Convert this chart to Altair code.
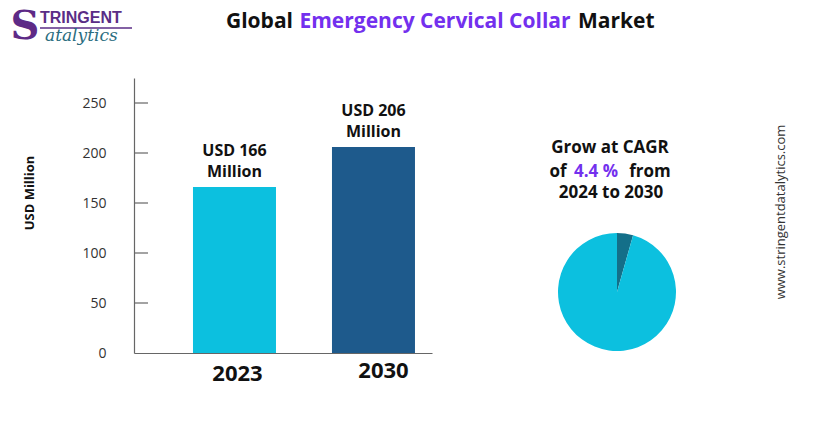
import altair as alt
import pandas as pd

# ---------------- data ----------------
years = ["2023", "2030"]
market_values = [166, 206]
value_labels = ["USD 166\nMillion", "USD 206\nMillion"]
y_ticks = [0, 50, 100, 150, 200, 250]
tick_marks = [50, 100, 150, 200, 250]
pie_parts = ["growth", "rest"]
pie_values = [4.4, 95.6]
title_parts = ["Global", "Emergency Cervical Collar", "Market"]
cagr_text = ["Grow at CAGR", "of", "4.4 %", "from", "2024 to 2030"]
y_title = "USD Million"
watermark = "www.stringentdatalytics.com"
logo_parts = ["S", "TRINGENT", "atalytics"]

# ---------------- layout ----------------
OX, OY = 134, 78          # plot-area origin in page pixels
W, H = 298, 275           # plot-area size
FONT = "Open Sans"
CYAN = "#0cc0df"
NAVY = "#1e5a8c"
DARK = "#146f89"
PURPLE = "#7330ee"


def px(x):
    return x - OX


def py(y):
    return y - OY


def one(text):
    return pd.DataFrame({"t": [text]})


bars_df = pd.DataFrame({"year": years, "value": market_values, "label": value_labels})
ticks_df = pd.DataFrame({"value": tick_marks})
pie_df = pd.DataFrame({"part": pie_parts, "share": pie_values, "order": [0, 1]})

xscale = alt.Scale(domain=years, paddingInner=0.403, paddingOuter=0.2735, align=0.776)
yscale = alt.Scale(domain=[0, 275], nice=False)

xaxis = alt.Axis(
    title=None, ticks=False, domainColor="#666", domainWidth=1.2,
    labelFont=FONT, labelFontSize=22, labelFontWeight="bold", labelColor="#111",
    labelAngle=0,
    labelOffset={"condition": {"test": "datum.value == '2030'", "value": 10}, "value": 3},
    labelPadding={"condition": {"test": "datum.value == '2030'", "value": 7}, "value": 10},
)
yaxis = alt.Axis(
    title=None, values=y_ticks, ticks=False, grid=False, domainColor="#666", domainWidth=1.2,
    labelFont=FONT, labelFontSize=14, labelColor="#333", labelPadding=28,
)

bars = alt.Chart(bars_df).mark_bar(size=83).encode(
    x=alt.X("year:N", scale=xscale, axis=xaxis, sort=years),
    y=alt.Y("value:Q", scale=yscale, axis=yaxis),
    color=alt.Color("year:N", scale=alt.Scale(domain=years, range=[CYAN, NAVY]), legend=None),
)

bar_labels = alt.Chart(bars_df).mark_text(
    baseline="bottom", dy=-28, lineBreak="\n", lineHeight=21,
    font=FONT, fontSize=16, fontWeight="bold", color="#111",
).encode(
    x=alt.X("year:N", scale=xscale, axis=xaxis, sort=years),
    y=alt.Y("value:Q", scale=yscale, axis=yaxis),
    text="label:N",
)

tick_rules = alt.Chart(ticks_df).mark_rule(color="#666", strokeWidth=1.2).encode(
    y=alt.Y("value:Q", scale=yscale, axis=yaxis),
    x=alt.value(0),
    x2=alt.value(14),
)

pie = alt.Chart(pie_df).mark_arc(outerRadius=59).encode(
    theta=alt.Theta("share:Q", stack=True),
    order=alt.Order("order:Q"),
    color=alt.Color("part:N", scale=alt.Scale(domain=pie_parts, range=[DARK, CYAN]), legend=None),
    x=alt.value(px(617)),
    y=alt.value(py(292)),
)


def txt(text, x, y, size, color="#111", weight="bold", align="center", angle=None,
        font=FONT, style="normal", baseline="middle"):
    kw = dict(font=font, fontSize=size, fontWeight=weight, color=color, align=align,
              baseline=baseline, fontStyle=style)
    if angle is not None:
        kw["angle"] = angle
    return alt.Chart(one(text)).mark_text(**kw).encode(
        text="t:N", x=alt.value(px(x)), y=alt.value(py(y))
    )


layers = [
    bars, bar_labels, tick_rules, pie,
    # title
    txt(title_parts[0], 293, 22, 21, align="right"),
    txt(title_parts[1], 435, 22, 21, color=PURPLE),
    txt(title_parts[2], 578, 22, 21, align="left"),
    # CAGR block
    txt(cagr_text[0], 610, 148, 17),
    txt(cagr_text[1], 558, 172, 17),
    txt(cagr_text[2], 596, 172, 17, color=PURPLE),
    txt(cagr_text[3], 650, 172, 17),
    txt(cagr_text[4], 611, 193, 17),
    # y title and watermark
    txt(y_title, 30, 193, 13, angle=270),
    txt(watermark, 781, 212, 13, color="#333", weight="normal", angle=270),
    # logo
    txt(logo_parts[0], 25, 27, 40, color="#5e2a86", weight="bold", font="DejaVu Serif"),
    txt(logo_parts[1], 40, 18, 16, color="#5a2d86", align="left", font="Liberation Sans"),
    alt.Chart(one("u")).mark_rule(color="#5a2d86", strokeWidth=1.5).encode(
        x=alt.value(px(40)), x2=alt.value(px(132)), y=alt.value(py(28))
    ),
    txt(logo_parts[2], 45, 36, 17, color="#2b6d80", weight="normal", align="left",
        font="DejaVu Serif", style="italic"),
]

chart = alt.layer(*layers).resolve_scale(color="independent").properties(
    width=W, height=H,
    background="white",
    autosize=alt.AutoSizeParams(type="none"),
    padding={"left": OX, "top": OY, "right": 816 - OX - W, "bottom": 426 - OY - H},
).configure_view(stroke=None)

chart.save("out.html", embed_options={"renderer": "svg", "actions": False})
